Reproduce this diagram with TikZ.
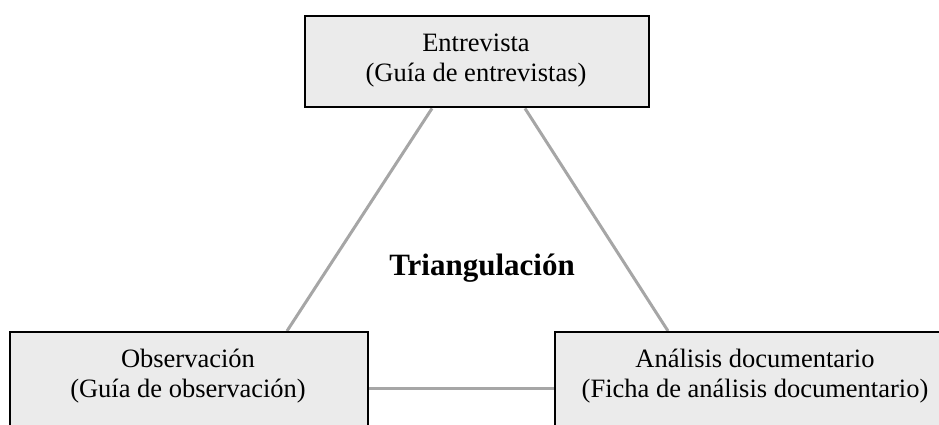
\documentclass[tikz,border=0pt]{standalone}
\usepackage{fontspec}
\setmainfont{Liberation Serif}
\usetikzlibrary{calc,backgrounds}
\definecolor{boxfill}{HTML}{EBEBEB}
\definecolor{linegray}{HTML}{A6A6A6}
\tikzset{
  boxshape/.style={draw=black, line width=2.4pt, fill=boxfill, rectangle, inner sep=0pt, anchor=north west},
  boxtext/.style={align=center, inner sep=0pt, font=\fontsize{26.5}{30}\selectfont},
  link/.style={draw=linegray, line width=3pt},
  titletext/.style={font=\fontsize{31}{36}\selectfont\bfseries, inner sep=0pt, anchor=base}
}
\begin{document}
\begin{tikzpicture}[x=1pt,y=-1pt]
\useasboundingbox (0,0) rectangle (939,424);
\clip (0,0) rectangle (939,424);
% boxes
\node[boxshape, minimum width=344pt, minimum height=91pt] (ent) at (304,15) {};
\node[boxshape, minimum width=358pt, minimum height=100pt] (obs) at (9,331) {};
\node[boxshape, minimum width=402pt, minimum height=100pt] (ana) at (554,331) {};
% texts
\node[boxtext] (enttxt) at (476,61) {Entrevista\\(Guía de entrevistas)};
\node[boxtext] (obstxt) at (188,376) {Observación\\(Guía de observación)};
\node[boxtext] (anatxt) at (755,376) {Análisis documentario\\(Ficha de análisis documentario)};
\node[titletext] (tri) at (482,275) {Triangulación};
% connectors
\begin{scope}[on background layer]
\draw[link] ($(ent.south west)+(128,0)$) -- ($(obs.north west)+(278,0)$);
\draw[link] ($(ent.south west)+(221,0)$) -- ($(ana.north west)+(114,0)$);
\draw[link] ($(obs.north east)+(0,57)$) -- ($(ana.north west)+(0,57)$);
\end{scope}
\end{tikzpicture}
\end{document}
